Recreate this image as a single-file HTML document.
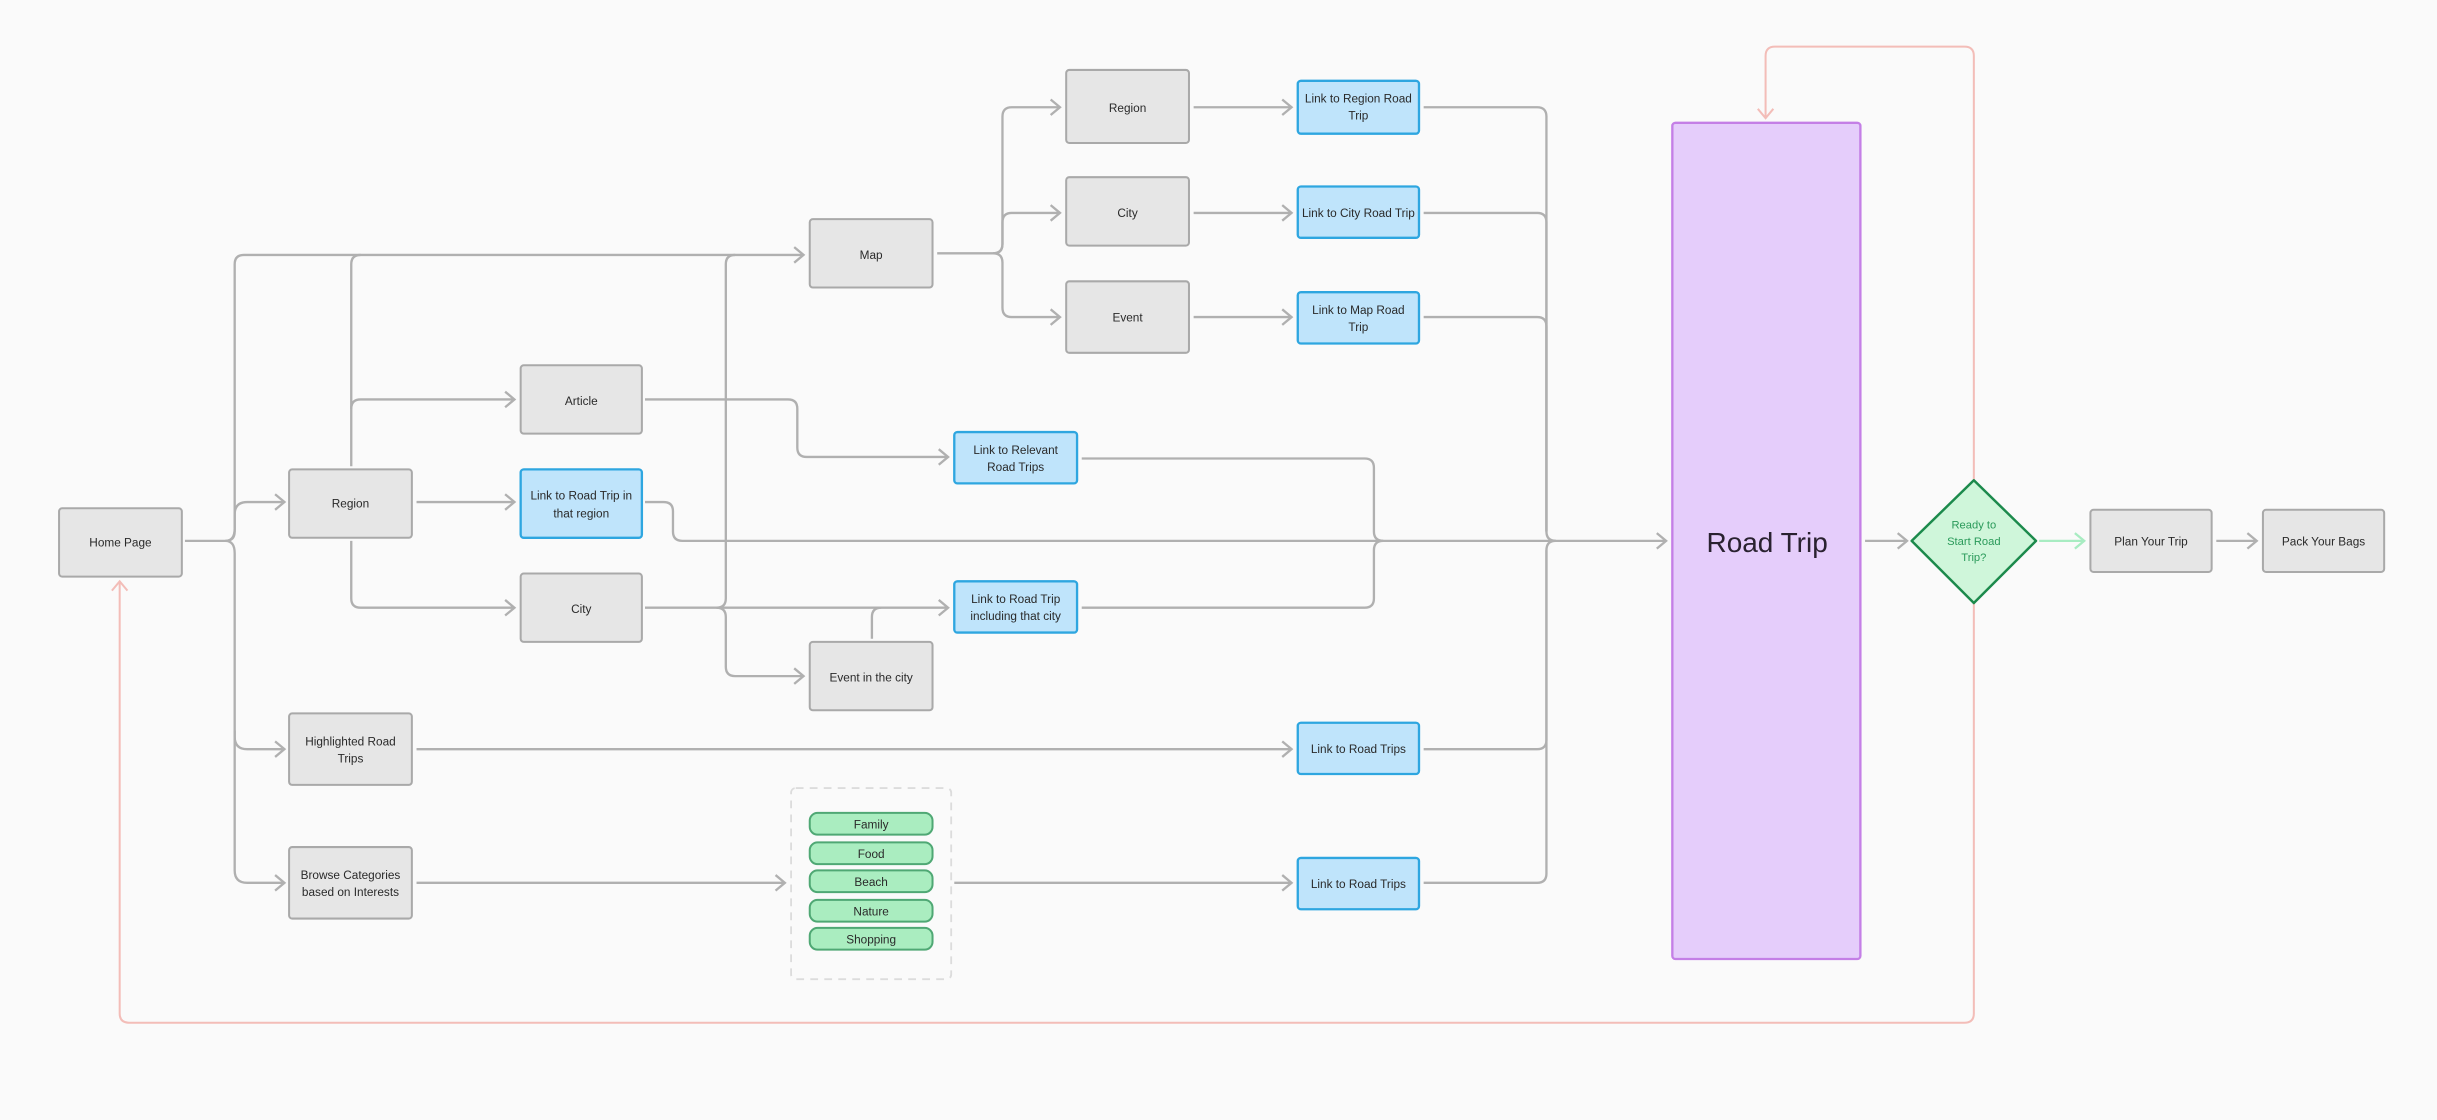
<!DOCTYPE html>
<html><head><meta charset="utf-8"><style>
html,body{margin:0;padding:0;background:#fafafa;}
svg{display:block;}
text{font-family:"Liberation Sans",sans-serif;font-size:7.6px;fill:#2a2a2a;text-anchor:middle;}
</style></head><body>
<svg width="2437" height="1120" viewBox="0 0 1568 720.6" preserveAspectRatio="none" xmlns="http://www.w3.org/2000/svg">
<defs>
<marker id="ag" markerUnits="userSpaceOnUse" markerWidth="10" markerHeight="12" refX="7" refY="6" orient="auto"><path d="M1,1 L7,6 L1,11" fill="none" stroke="#b0b0b0" stroke-width="1.5"/></marker>
<marker id="ap" markerUnits="userSpaceOnUse" markerWidth="10" markerHeight="12" refX="7" refY="6" orient="auto"><path d="M1,1 L7,6 L1,11" fill="none" stroke="#f3bdb8" stroke-width="1.3"/></marker>
<marker id="agr" markerUnits="userSpaceOnUse" markerWidth="10" markerHeight="12" refX="7" refY="6" orient="auto"><path d="M1,1 L7,6 L1,11" fill="none" stroke="#a8ecc2" stroke-width="1.5"/></marker>
</defs>
<rect x="0" y="0" width="1568" height="721" fill="#fafafa"/>
<g fill="none" stroke="#b0b0b0" stroke-width="1.5">
<path d="M119,348 H145 Q151,348 151,342 V170 Q151,164 157,164 H517" marker-end="url(#ag)"/>
<path d="M145,348 Q151,348 151,340 V331 Q151,323 159,323 H183" marker-end="url(#ag)"/>
<path d="M145,348 Q151,348 151,356 V474 Q151,482 159,482 H183" marker-end="url(#ag)"/>
<path d="M151,470 V560 Q151,568 159,568 H183" marker-end="url(#ag)"/>
<path d="M226,300 V170 Q226,164 232,164"/>
<path d="M226,263 Q226,257 232,257 H331" marker-end="url(#ag)"/>
<path d="M268,323 H331" marker-end="url(#ag)"/>
<path d="M226,348 V385 Q226,391 232,391 H331" marker-end="url(#ag)"/>
<path d="M415,391 H610" marker-end="url(#ag)"/>
<path d="M461,391 Q467,391 467,385 V170 Q467,164 473,164"/>
<path d="M461,391 Q467,391 467,397 V429 Q467,435 473,435 H517" marker-end="url(#ag)"/>
<path d="M561,411 V397 Q561,391 567,391"/>
<path d="M415,257 H507 Q513,257 513,263 V288 Q513,294 519,294 H610" marker-end="url(#ag)"/>
<path d="M415,323 H427 Q433,323 433,329 V342 Q433,348 439,348 H1072" marker-end="url(#ag)"/>
<path d="M603,163 H639 Q645,163 645,157 V75 Q645,69 651,69 H682" marker-end="url(#ag)"/>
<path d="M639,163 Q645,163 645,157 V143 Q645,137 651,137 H682" marker-end="url(#ag)"/>
<path d="M639,163 Q645,163 645,169 V198 Q645,204 651,204 H682" marker-end="url(#ag)"/>
<path d="M768,69 H831" marker-end="url(#ag)"/>
<path d="M768,137 H831" marker-end="url(#ag)"/>
<path d="M768,204 H831" marker-end="url(#ag)"/>
<path d="M916,69 H989 Q995,69 995,75 V342 Q995,348 1001,348"/>
<path d="M916,137 H989 Q995,137 995,143 V342"/>
<path d="M916,204 H989 Q995,204 995,210 V342"/>
<path d="M696,295 H878 Q884,295 884,301 V342 Q884,348 890,348"/>
<path d="M696,391 H878 Q884,391 884,385 V354 Q884,348 890,348"/>
<path d="M268,482 H831" marker-end="url(#ag)"/>
<path d="M916,482 H989 Q995,482 995,476 V354 Q995,348 1001,348"/>
<path d="M268,568 H505" marker-end="url(#ag)"/>
<path d="M614,568 H831" marker-end="url(#ag)"/>
<path d="M916,568 H989 Q995,568 995,562 V354"/>
<path d="M1200,348 H1227" marker-end="url(#ag)"/>
<path d="M1426,348 H1452" marker-end="url(#ag)"/>
</g>
<path d="M1312,348 H1341" fill="none" stroke="#a8ecc2" stroke-width="1.5" marker-end="url(#agr)"/>
<g fill="none" stroke="#f3bdb8" stroke-width="1.3">
<path d="M1270,388 V652 Q1270,658 1264,658 H83 Q77,658 77,652 V374" marker-end="url(#ap)"/>
<path d="M1270,309 V36 Q1270,30 1264,30 H1142 Q1136,30 1136,36 V76" marker-end="url(#ap)"/>
</g>
<g fill="#e6e6e6" stroke="#a9a9a9" stroke-width="1.3">
<rect x="38" y="327" width="79" height="44" rx="2"/>
<rect x="186" y="302" width="79" height="44" rx="2"/>
<rect x="186" y="459" width="79" height="46" rx="2"/>
<rect x="186" y="545" width="79" height="46" rx="2"/>
<rect x="335" y="235" width="78" height="44" rx="2"/>
<rect x="335" y="369" width="78" height="44" rx="2"/>
<rect x="521" y="141" width="79" height="44" rx="2"/>
<rect x="521" y="413" width="79" height="44" rx="2"/>
<rect x="686" y="45" width="79" height="47" rx="2"/>
<rect x="686" y="114" width="79" height="44" rx="2"/>
<rect x="686" y="181" width="79" height="46" rx="2"/>
<rect x="1345" y="328" width="78" height="40" rx="2"/>
<rect x="1456" y="328" width="78" height="40" rx="2"/>
</g>
<g fill="#bfe4fb" stroke="#2ea6e0" stroke-width="1.5">
<rect x="335" y="302" width="78" height="44" rx="2"/>
<rect x="835" y="52" width="78" height="34" rx="2"/>
<rect x="835" y="120" width="78" height="33" rx="2"/>
<rect x="835" y="188" width="78" height="33" rx="2"/>
<rect x="614" y="278" width="79" height="33" rx="2"/>
<rect x="614" y="374" width="79" height="33" rx="2"/>
<rect x="835" y="465" width="78" height="33" rx="2"/>
<rect x="835" y="552" width="78" height="33" rx="2"/>
</g>
<rect x="509" y="507" width="103" height="123" rx="3" fill="none" stroke="#dcdcdc" stroke-width="1.2" stroke-dasharray="5,4"/>
<g fill="#aaedc0" stroke="#4fa874" stroke-width="1.3">
<rect x="521" y="523" width="79" height="14" rx="5"/>
<rect x="521" y="542" width="79" height="14" rx="5"/>
<rect x="521" y="560" width="79" height="14" rx="5"/>
<rect x="521" y="579" width="79" height="14" rx="5"/>
<rect x="521" y="597" width="79" height="14" rx="5"/>
</g>
<rect x="1076" y="79" width="121" height="538" rx="2" fill="#e5cdfb" stroke="#c47fe6" stroke-width="1.5"/>
<path d="M1270,309 L1310,348 L1270,388 L1230,348 Z" fill="#cff6da" stroke="#1c8a4c" stroke-width="1.6" stroke-linejoin="round"/>
<g>
<text x="77.5" y="351.5">Home Page</text>
<text x="225.5" y="326.5">Region</text>
<text x="225.5" y="479.5">Highlighted Road</text><text x="225.5" y="490.5">Trips</text>
<text x="225.5" y="565.5">Browse Categories</text><text x="225.5" y="576.5">based on Interests</text>
<text x="374" y="260.5">Article</text>
<text x="374" y="321.5">Link to Road Trip in</text><text x="374" y="333">that region</text>
<text x="374" y="394.5">City</text>
<text x="560.5" y="166.5">Map</text>
<text x="560.5" y="438.5">Event in the city</text>
<text x="725.5" y="72">Region</text>
<text x="725.5" y="139.5">City</text>
<text x="725.5" y="207">Event</text>
<text x="874" y="66">Link to Region Road</text><text x="874" y="77">Trip</text>
<text x="874" y="139.5">Link to City Road Trip</text>
<text x="874" y="202">Link to Map Road</text><text x="874" y="213">Trip</text>
<text x="653.5" y="292">Link to Relevant</text><text x="653.5" y="303">Road Trips</text>
<text x="653.5" y="388">Link to Road Trip</text><text x="653.5" y="399">including that city</text>
<text x="874" y="484.5">Link to Road Trips</text>
<text x="874" y="571.5">Link to Road Trips</text>
<text x="560.5" y="533">Family</text>
<text x="560.5" y="552">Food</text>
<text x="560.5" y="570">Beach</text>
<text x="560.5" y="589">Nature</text>
<text x="560.5" y="607">Shopping</text>
<text x="1384" y="351">Plan Your Trip</text>
<text x="1495" y="351">Pack Your Bags</text>
<text x="1137" y="355" style="font-size:18px;fill:#2a2230">Road Trip</text>
<text x="1270" y="340" style="fill:#2a9a5a;font-size:7.2px">Ready to</text>
<text x="1270" y="350.5" style="fill:#2a9a5a;font-size:7.2px">Start Road</text>
<text x="1270" y="361" style="fill:#2a9a5a;font-size:7.2px">Trip?</text>
</g>
</svg>
</body></html>
